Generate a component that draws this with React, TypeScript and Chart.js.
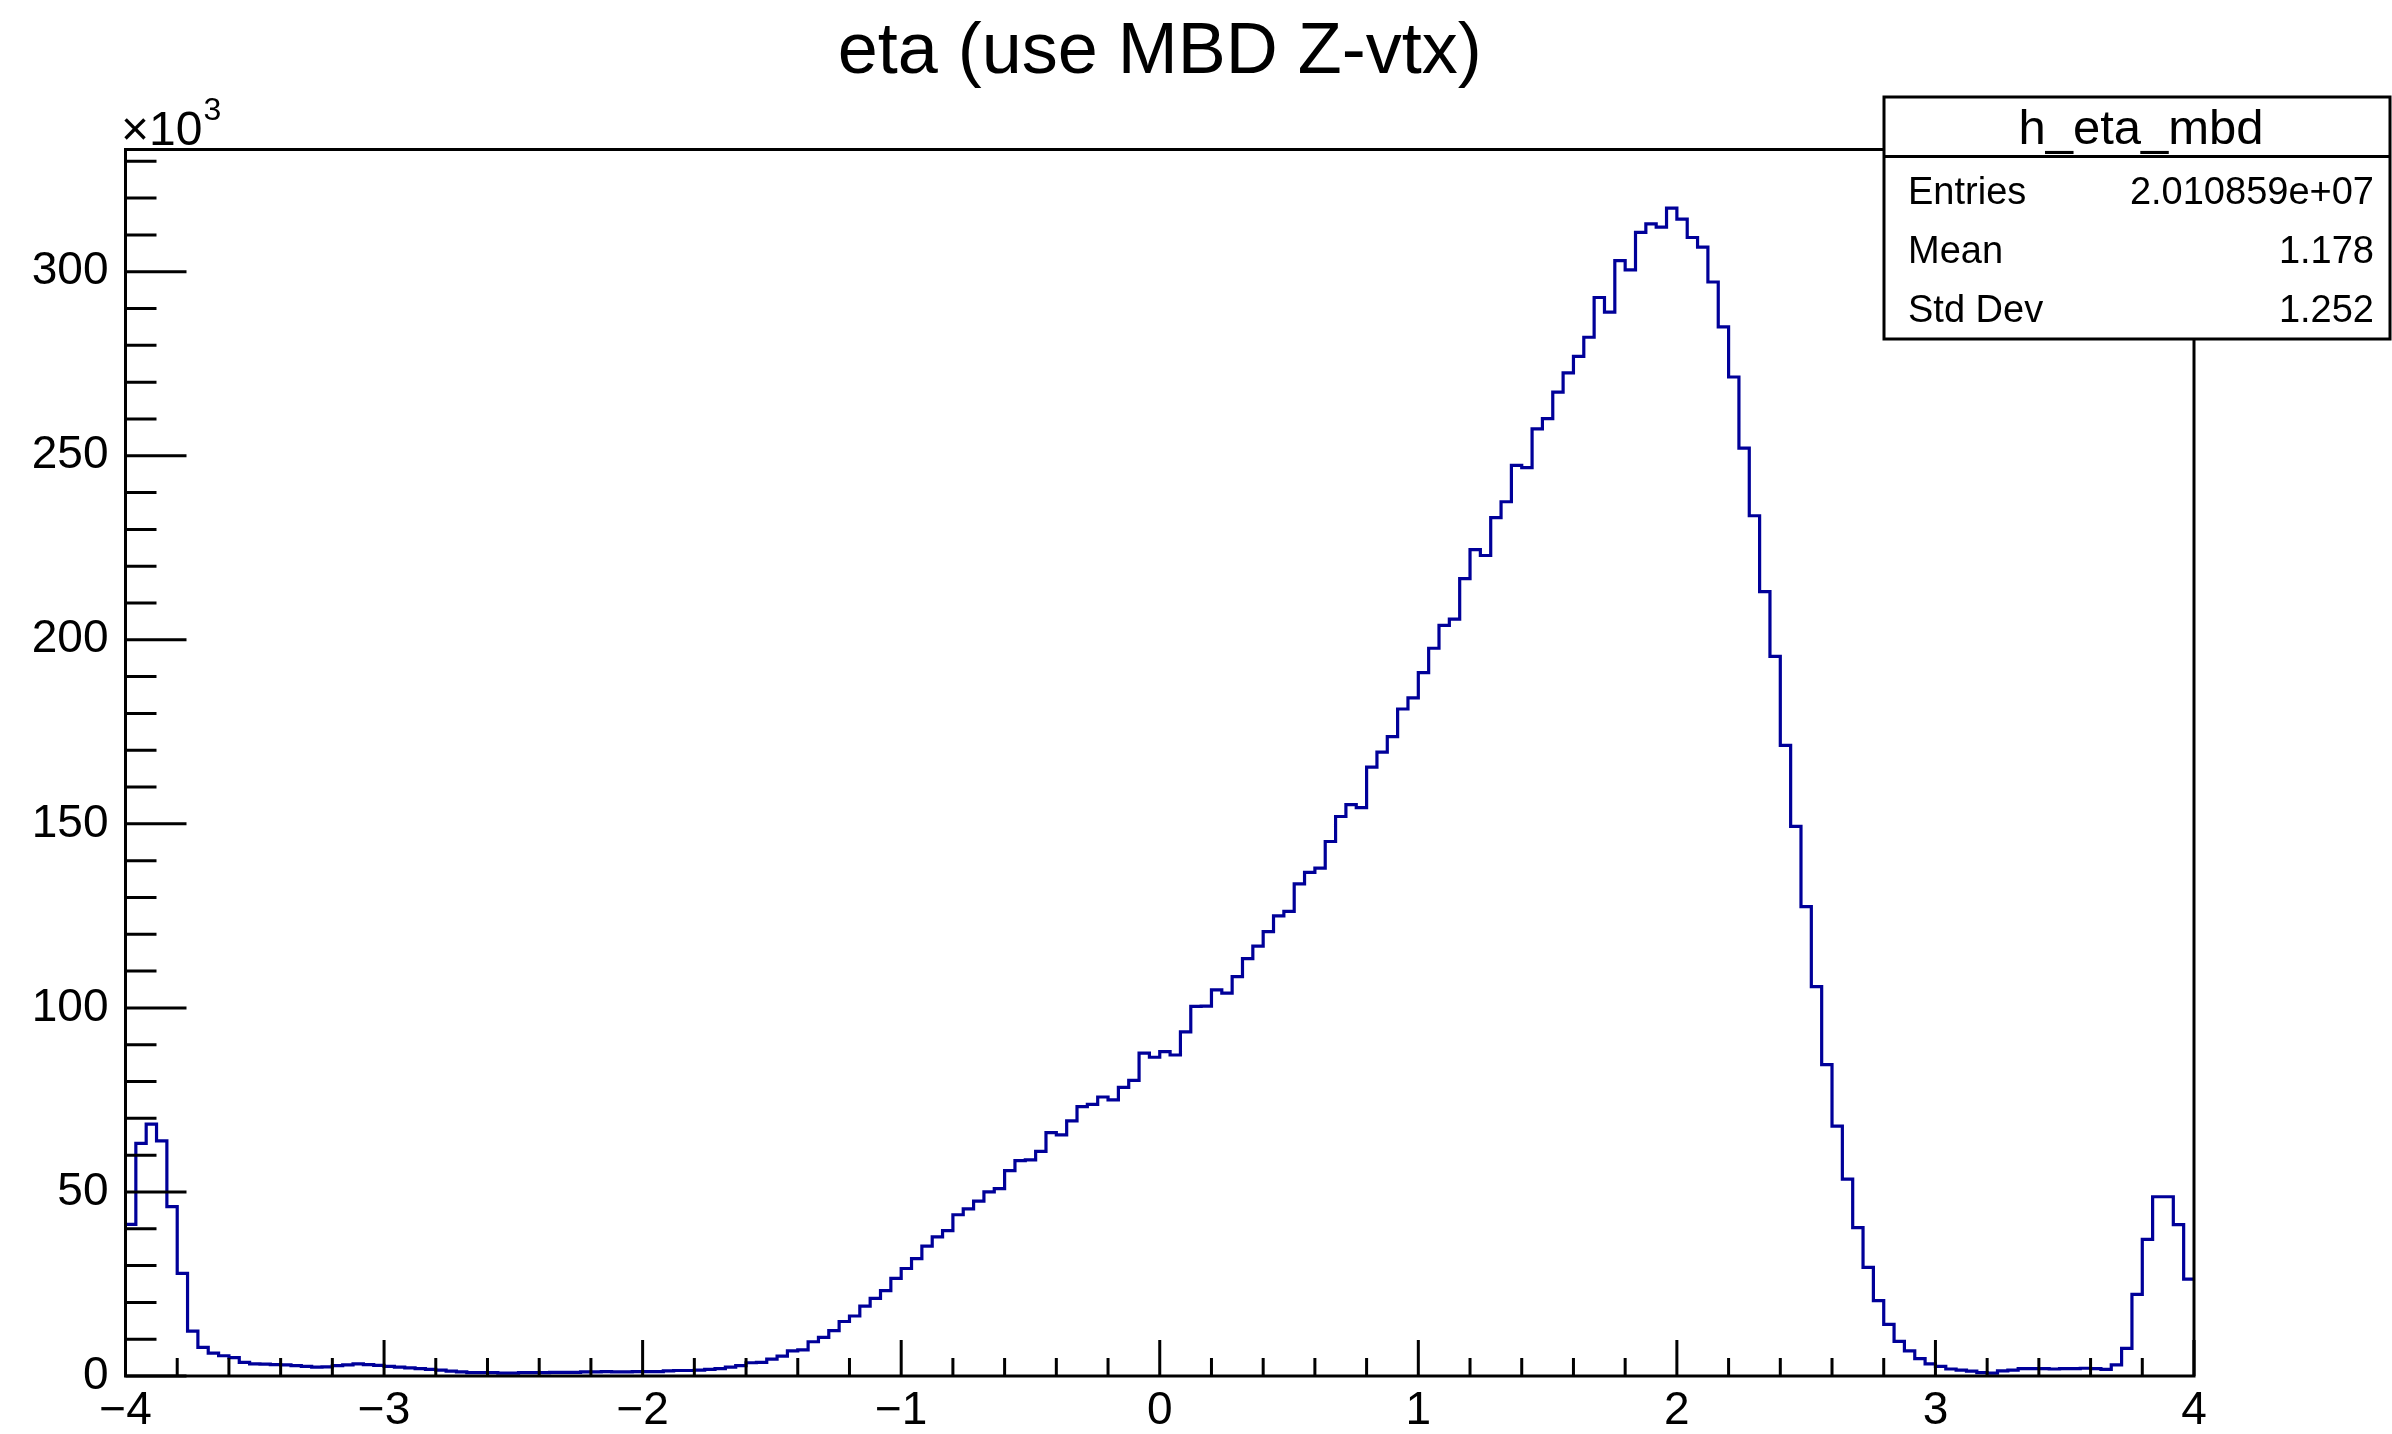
import React, { useEffect, useRef } from "react";
import { Chart, registerables } from "chart.js";

Chart.register(...registerables);

// ---------------- data ----------------
const histTitle = "eta (use MBD Z-vtx)";
const histName = "h_eta_mbd";
const xMin = -4;
const xMax = 4;
const nBins = 200;
const yMaxK = 333.2; // axis maximum, in units of 10^3

// bin contents, in units of 10^3 entries (bin width 0.04)
const countsEtaM4toM2 = [
  41.2, 63.2, 68.4, 63.9, 46.0, 27.9, 12.2, 7.8, 6.2, 5.5,
  5.0, 3.7, 3.3, 3.2, 3.1, 3.0, 2.8, 2.6, 2.4, 2.5,
  2.8, 3.0, 3.3, 3.1, 2.9, 2.6, 2.4, 2.2, 2.0, 1.8,
  1.6, 1.3, 1.1, 0.9, 0.9, 0.9, 0.8, 0.8, 0.9, 0.9,
  0.9, 1.0, 1.0, 1.0, 1.1, 1.1, 1.2, 1.1, 1.1, 1.2,
];
const countsEtaM2to0 = [
  1.2, 1.2, 1.4, 1.5, 1.5, 1.6, 1.8, 2.0, 2.4, 2.8,
  3.6, 3.7, 4.6, 5.4, 6.8, 7.1, 9.3, 10.5, 12.3, 14.8,
  16.3, 19.0, 21.1, 23.2, 26.5, 29.2, 31.9, 35.3, 37.8, 39.5,
  43.8, 45.4, 47.5, 50.0, 50.9, 55.8, 58.5, 58.7, 61.0, 66.1,
  65.5, 69.3, 73.2, 73.8, 75.8, 75.0, 78.4, 80.3, 87.7, 86.6,
];
const countsEta0to2 = [
  88.1, 87.2, 93.5, 100.4, 100.5, 104.9, 104.0, 108.5, 113.4, 116.8,
  120.7, 125.0, 126.2, 133.7, 136.8, 138.0, 145.2, 152.0, 155.2, 154.4,
  165.4, 169.5, 173.7, 181.2, 184.2, 191.1, 197.7, 203.9, 205.6, 216.6,
  224.5, 222.9, 233.2, 237.5, 247.4, 246.8, 257.3, 260.1, 267.3, 272.5,
  277.0, 282.2, 293.0, 289.0, 303.0, 300.5, 310.7, 313.0, 312.1, 317.3,
];
const countsEta2to4 = [
  314.3, 309.3, 306.7, 297.2, 285.0, 271.4, 252.1, 233.7, 213.1, 195.5,
  171.3, 149.3, 127.5, 105.8, 84.6, 67.9, 53.5, 40.3, 29.5, 20.5,
  14.0, 9.4, 6.8, 4.7, 3.3, 2.6, 1.9, 1.6, 1.3, 0.9,
  0.8, 1.4, 1.6, 2.0, 2.0, 2.0, 1.9, 2.0, 2.0, 2.1,
  2.0, 1.8, 3.0, 7.5, 22.2, 37.1, 48.7, 48.7, 41.1, 26.3,
];

const xTickValues = [-4, -3, -2, -1, 0, 1, 2, 3, 4];
const yTickValues = [0, 50, 100, 150, 200, 250, 300];
const xMinorStep = 0.2;
const yMinorStep = 10;

const statLabels = ["Entries", "Mean", "Std Dev"];
const statValues = ["2.010859e+07", "1.178", "1.252"];

// ---------------- styling ----------------
const FONT = "'Liberation Sans', Arial, Helvetica, sans-serif";
const LINE_COLOR = "#000099";
const W = 2392;
const H = 1434;
const AREA = { left: 125.5, top: 149.5, right: 2194, bottom: 1376 };

const fmtTick = (v: number) => (v < 0 ? "\u2212" + Math.abs(v) : String(v));

function buildPoints() {
  const counts = [...countsEtaM4toM2, ...countsEtaM2to0, ...countsEta0to2, ...countsEta2to4];
  const width = (xMax - xMin) / nBins;
  const pts = counts.map((c, i) => ({ x: xMin + i * width, y: c }));
  pts.push({ x: xMax, y: counts[counts.length - 1] });
  return pts;
}

const rootStylePlugin = {
  id: "rootStyle",
  beforeDraw(chart: any) {
    const ctx = chart.ctx;
    ctx.save();
    ctx.fillStyle = "#ffffff";
    ctx.fillRect(0, 0, chart.width, chart.height);
    ctx.restore();
  },
  afterDraw(chart: any) {
    const ctx: CanvasRenderingContext2D = chart.ctx;
    const a = chart.chartArea;
    const xs = chart.scales.x;
    const ys = chart.scales.y;
    ctx.save();
    ctx.strokeStyle = "#000";
    ctx.lineWidth = 3;
    ctx.lineCap = "butt";

    // ticks (inside the frame)
    const yMajLen = 61, yMinLen = 31, xMajLen = 36, xMinLen = 18;
    ctx.beginPath();
    for (let v = 0; v <= yMaxK + 1e-6; v += yMinorStep) {
      const r = Math.round(v);
      const isMaj = yTickValues.includes(r);
      const py = ys.getPixelForValue(r);
      ctx.moveTo(a.left, py);
      ctx.lineTo(a.left + (isMaj ? yMajLen : yMinLen), py);
    }
    for (let k = 0; k <= Math.round((xMax - xMin) / xMinorStep); k++) {
      const v = xMin + k * xMinorStep;
      const isMaj = xTickValues.some((t) => Math.abs(t - v) < 1e-6);
      const px = xs.getPixelForValue(v);
      ctx.moveTo(px, a.bottom);
      ctx.lineTo(px, a.bottom - (isMaj ? xMajLen : xMinLen));
    }
    ctx.stroke();

    // frame
    ctx.strokeRect(a.left, a.top, a.right - a.left, a.bottom - a.top);

    // title
    ctx.fillStyle = "#000";
    ctx.textAlign = "center";
    ctx.textBaseline = "alphabetic";
    ctx.font = `72px ${FONT}`;
    ctx.fillText(histTitle, (a.left + a.right) / 2, 73);

    // x10^3 multiplier
    ctx.textAlign = "left";
    ctx.font = `48px ${FONT}`;
    const mult = "\u00d710";
    ctx.fillText(mult, 121, 145);
    const mw = ctx.measureText(mult).width;
    ctx.font = `32px ${FONT}`;
    ctx.fillText("3", 121 + mw + 1, 120);

    // stats box
    const bx = 1884, by = 97, bw = 2390 - 1884, bh = 339 - 97;
    ctx.fillStyle = "#fff";
    ctx.fillRect(bx, by, bw, bh);
    ctx.strokeRect(bx, by, bw, bh);
    ctx.beginPath();
    ctx.moveTo(bx, 156.5);
    ctx.lineTo(bx + bw, 156.5);
    ctx.stroke();
    ctx.fillStyle = "#000";
    ctx.textAlign = "center";
    ctx.font = `49px ${FONT}`;
    ctx.fillText(histName, 2141, 144);
    ctx.font = `38px ${FONT}`;
    const rowBase = [204, 263, 322];
    statLabels.forEach((lab, i) => {
      ctx.textAlign = "left";
      ctx.fillText(lab, 1908, rowBase[i]);
      ctx.textAlign = "right";
      ctx.fillText(statValues[i], 2374, rowBase[i]);
    });
    ctx.restore();
  },
};

export default function App() {
  const ref = useRef<HTMLCanvasElement>(null);
  useEffect(() => {
    document.body.style.margin = "0";
    const canvas = ref.current;
    if (!canvas) return;
    const chart = new Chart(canvas, {
      type: "line",
      data: {
        datasets: [
          {
            label: histName,
            data: buildPoints(),
            stepped: "before",
            borderColor: LINE_COLOR,
            borderWidth: 3.2,
            pointRadius: 0,
            fill: false,
            tension: 0,
          },
        ],
      },
      options: {
        animation: false,
        responsive: false,
        devicePixelRatio: 1,
        parsing: false,
        normalized: true,
        layout: {
          padding: { left: 0, top: AREA.top, right: W - AREA.right, bottom: 0 },
        },
        plugins: {
          legend: { display: false },
          tooltip: { enabled: false },
          title: { display: false },
        },
        scales: {
          x: {
            type: "linear",
            min: xMin,
            max: xMax,
            grid: { display: false, drawTicks: false },
            border: { display: false },
            afterBuildTicks: (s: any) => {
              s.ticks = xTickValues.map((v) => ({ value: v }));
            },
            afterFit: (s: any) => {
              s.height = H - AREA.bottom;
            },
            ticks: {
              color: "#000",
              font: { family: FONT, size: 46 },
              padding: 8,
              maxRotation: 0,
              minRotation: 0,
              autoSkip: false,
              callback: (v: any) => fmtTick(Number(v)),
            },
          },
          y: {
            type: "linear",
            min: 0,
            max: yMaxK,
            grid: { display: false, drawTicks: false },
            border: { display: false },
            afterBuildTicks: (s: any) => {
              s.ticks = yTickValues.map((v) => ({ value: v }));
            },
            afterFit: (s: any) => {
              s.width = AREA.left;
            },
            ticks: {
              color: "#000",
              font: { family: FONT, size: 46 },
              padding: 17,
              autoSkip: false,
              callback: (v: any) => fmtTick(Number(v)),
            },
          },
        },
      },
      plugins: [rootStylePlugin],
    } as any);
    return () => chart.destroy();
  }, []);
  return (
    <div style={{ width: W, height: H }}>
      <canvas ref={ref} width={W} height={H} style={{ display: "block", width: W, height: H }} />
    </div>
  );
}
